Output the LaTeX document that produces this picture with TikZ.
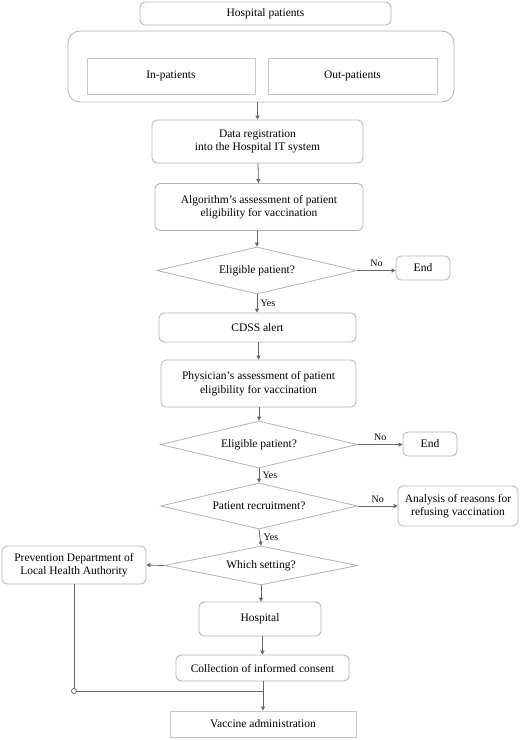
\documentclass[tikz,border=0pt]{standalone}
\usepackage{fontspec}
\setmainfont{Liberation Serif}
\usetikzlibrary{shapes.geometric,arrows.meta}

\begin{document}
\begin{tikzpicture}
[x=1pt, y=-1pt,
stepbox/.style={rectangle, rounded corners=5pt, draw=gray!60, thick, align=center, font=\fontsize{11.5}{13.5}\selectfont, inner sep=0pt},
plainbox/.style={rectangle, draw=gray!45, thick, align=center, font=\fontsize{11.5}{13.5}\selectfont, inner sep=0pt},
decision/.style={diamond, aspect=4, draw=gray!60, thick, inner sep=0pt, font=\fontsize{11.5}{13.5}\selectfont},
answer/.style={font=\fontsize{10}{12}\selectfont},
connect/.style={-{Triangle[length=4pt,width=4pt]}, draw=gray!80!black, thick}]
\useasboundingbox (0, 0) rectangle (520, 740);

\node[stepbox, minimum width=251, minimum height=23]	(patients) at (265.5, 13.5) {Hospital patients};
\node[stepbox, rounded corners=12pt, minimum width=386, minimum height=71]	(group) at (261, 66.5) {};
\node[plainbox, minimum width=168, minimum height=36]	(inpat) at (171, 76) {In-patients};
\node[plainbox, minimum width=169, minimum height=36]	(outpat) at (352.5, 76) {Out-patients};
\node[stepbox, minimum width=211, minimum height=43]	(register) at (257.5, 141.5) {Data registration\\into the Hospital IT system};
\node[stepbox, minimum width=208, minimum height=47]	(algo) at (259, 207) {Algorithm's assessment of patient\\eligibility for vaccination};
\node[decision, minimum width=200, minimum height=47]	(elig1) at (257, 270.5) {Eligible patient?};
\node[stepbox, minimum width=54, minimum height=24]	(end1) at (423, 268) {End};
\node[stepbox, minimum width=197, minimum height=29]	(alert) at (257.5, 327.5) {CDSS alert};
\node[stepbox, minimum width=195, minimum height=47]	(phys) at (258.5, 383.5) {Physician's assessment of patient\\eligibility for vaccination};
\node[decision, minimum width=197, minimum height=47]	(elig2) at (259, 444.5) {Eligible patient?};
\node[stepbox, minimum width=54, minimum height=24]	(end2) at (430, 444) {End};
\node[decision, minimum width=197, minimum height=46]	(recruit) at (259, 506) {Patient recruitment?};
\node[stepbox, minimum width=120, minimum height=40]	(refuse) at (458, 506) {Analysis of reasons for\\refusing vaccination};
\node[decision, minimum width=193, minimum height=39]	(setting) at (261, 565.5) {Which setting?};
\node[stepbox, minimum width=144, minimum height=38]	(prevent) at (74, 565) {Prevention Department of\\Local Health Authority};
\node[stepbox, minimum width=122, minimum height=34]	(hosp) at (260, 619) {Hospital};
\node[stepbox, minimum width=173, minimum height=26]	(consent) at (262.5, 668) {Collection of informed consent};
\node[plainbox, minimum width=186, minimum height=26]	(vaccine) at (263, 724) {Vaccine administration};
\coordinate (joint) at (prevent.south |- 0, 691);

\draw[connect] (group.south -| register.north) -- (register.north);
\draw[connect] (register) -- (algo);
\draw[connect] (algo.south -| elig1.north) -- (elig1.north);
\draw[connect] (elig1.east) -- node[answer, above] {No} (elig1.east -| end1.west);
\draw[connect] (elig1.south) -- node[answer, right] {Yes} (elig1.south |- alert.north);
\draw[connect] (alert.south -| phys.north) -- (phys.north);
\draw[connect] (phys.south -| elig2.north) -- (elig2.north);
\draw[connect] (elig2.east) -- node[answer, above] {No} (elig2.east -| end2.west);
\draw[connect] (elig2.south) -- node[answer, right] {Yes} (recruit.north);
\draw[connect] (recruit.east) -- node[answer, above] {No} (refuse.west);
\draw[connect] (recruit.south) -- node[answer, right] {Yes} (setting.north);
\draw[connect] (setting.west) -- (prevent.east);
\draw[connect] (setting.south) -- (setting.south |- hosp.north);
\draw[connect] (hosp.south -| consent.north) -- (consent.north);
\draw[connect] (consent.south -| vaccine.north) -- (vaccine.north);
\draw[draw=gray!80!black, thick] (prevent.south) -- (joint) -- (joint -| vaccine.north);
\draw[draw=gray!80!black, fill=white, thick] (joint) circle (2.5);

\end{tikzpicture}
\end{document}
